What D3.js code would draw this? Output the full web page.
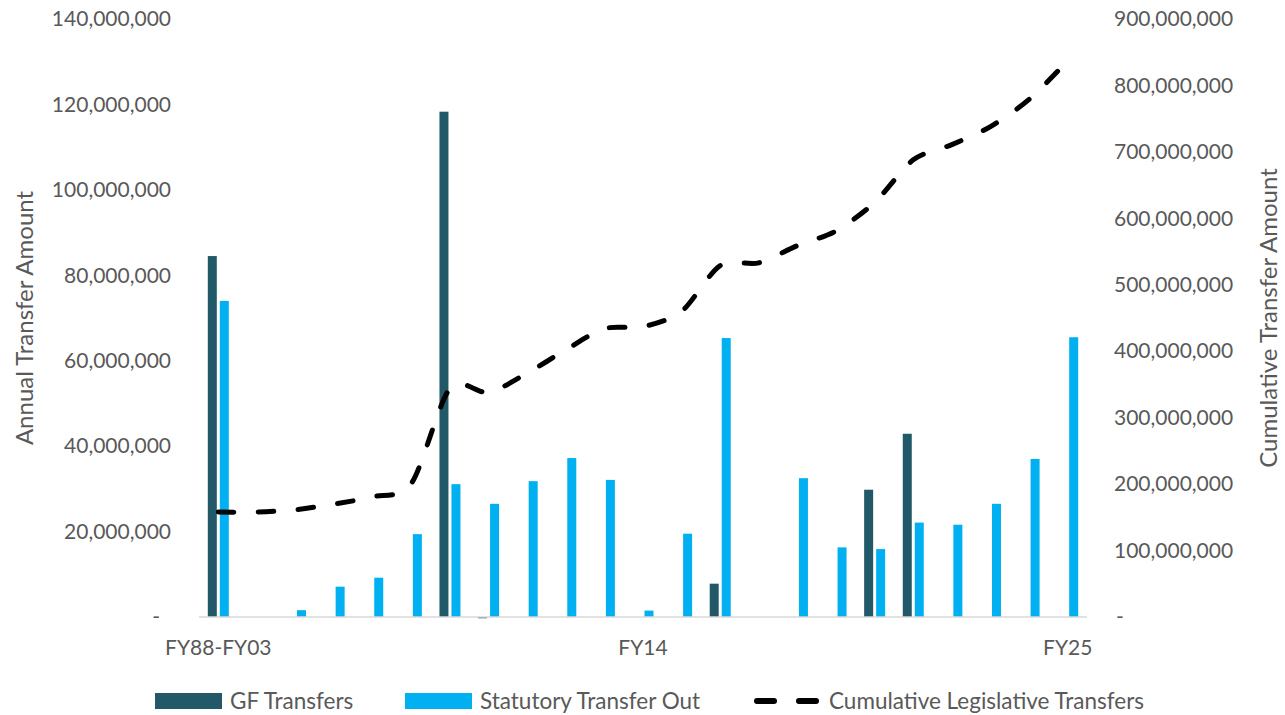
<!DOCTYPE html>
<html>
<head>
<meta charset="utf-8">
<script src="https://cdn.jsdelivr.net/npm/d3@7"></script>
<style>
  html, body { margin: 0; padding: 0; background: #fff; }
  svg { display: block; }
  text { font-family: Lato, "Liberation Sans", sans-serif; fill: #595959; }
</style>
</head>
<body>
<svg id="chart" width="1285" height="715"></svg>
<script>
// Fiscal-year categories
const categories = ["FY88-FY03", "FY04", "FY05", "FY06", "FY07", "FY08", "FY09", "FY10",
  "FY11", "FY12", "FY13", "FY14", "FY15", "FY16", "FY17", "FY18", "FY19", "FY20",
  "FY21", "FY22", "FY23", "FY24", "FY25"];

// Annual amounts (dollars)
const gfTransfers = [84500000, 0, 0, 0, 0, 0, 118300000, -300000, 0, 0, 0, 0, 0,
  7800000, 0, 0, 0, 29800000, 42900000, 0, 0, 0, 0];
const statutoryTransferOut = [74000000, 0, 1600000, 7100000, 9200000, 19400000, 31100000,
  26500000, 31800000, 37200000, 32100000, 1500000, 19500000, 65300000, 0, 32500000,
  16300000, 15900000, 22100000, 21600000, 26500000, 37000000, 65500000];

// Running total of legislative transfers (dollars, right axis)
const cumulativeLegislative = [158000000, 158000000, 161500000, 170000000, 181000000,
  201000000, 344000000, 338000000, 367000000, 402000000, 434000000, 437000000,
  460000000, 529000000, 533000000, 559000000, 581000000, 624000000, 688000000,
  711000000, 738000000, 779000000, 837000000];

const leftTicks = [0, 20000000, 40000000, 60000000, 80000000, 100000000, 120000000, 140000000];
const rightTicks = [0, 100000000, 200000000, 300000000, 400000000, 500000000, 600000000,
  700000000, 800000000, 900000000];
const shownCategoryLabels = ["FY88-FY03", "FY14", "FY25"];

const seriesNames = ["GF Transfers", "Statutory Transfer Out", "Cumulative Legislative Transfers"];
const colors = { gf: "#215968", stat: "#00B0F0", line: "#000000" };

const svg = d3.select("#chart");
const plot = { left: 199, right: 1087, top: 19, bottom: 617 };

const x0 = d3.scaleBand().domain(categories).range([plot.left, plot.right])
  .paddingInner(0.456).paddingOuter(0.228);
const x1 = d3.scaleBand().domain(["gf", "stat"]).range([0, x0.bandwidth()]).paddingInner(0.25);
const yL = d3.scaleLinear().domain([0, 140000000]).range([plot.bottom, plot.top]);
const yR = d3.scaleLinear().domain([0, 900000000]).range([plot.bottom, plot.top]);

const fmt = d3.format(",");

// Left axis labels (accounting style: zero shown as a dash)
const leftAxis = d3.axisLeft(yL).tickValues(leftTicks).tickSize(0).tickPadding(0)
  .tickFormat(d => d === 0 ? "-" : fmt(d));
const gL = svg.append("g").attr("transform", `translate(171,0)`).call(leftAxis);
gL.select(".domain").remove();
gL.selectAll("text").style("font-size", "21px").attr("fill", "#595959")
  .style("font-family", "Lato, sans-serif")
  .attr("dx", d => d === 0 ? -11 : 0);

// Right axis labels
const rightAxis = d3.axisRight(yR).tickValues(rightTicks).tickSize(0).tickPadding(0)
  .tickFormat(d => d === 0 ? "-" : fmt(d));
const gR = svg.append("g").attr("transform", `translate(1114,0)`).call(rightAxis);
gR.select(".domain").remove();
gR.selectAll("text").style("font-size", "21px").attr("fill", "#595959")
  .style("font-family", "Lato, sans-serif")
  .attr("dx", d => d === 0 ? 2 : 0);

// Bars
const groups = svg.append("g").selectAll("g").data(categories).join("g")
  .attr("transform", d => `translate(${x0(d)},0)`);

groups.append("rect")
  .attr("x", x1("gf")).attr("width", x1.bandwidth())
  .attr("y", (d, i) => yL(Math.max(0, gfTransfers[i])))
  .attr("height", (d, i) => Math.abs(yL(gfTransfers[i]) - yL(0)))
  .attr("fill", colors.gf);

groups.append("rect")
  .attr("x", x1("stat")).attr("width", x1.bandwidth())
  .attr("y", (d, i) => yL(Math.max(0, statutoryTransferOut[i])))
  .attr("height", (d, i) => Math.abs(yL(statutoryTransferOut[i]) - yL(0)))
  .attr("fill", colors.stat);

// Category axis baseline
svg.append("line")
  .attr("x1", plot.left).attr("x2", plot.right)
  .attr("y1", yL(0)).attr("y2", yL(0))
  .attr("stroke", "#d9d9d9").attr("stroke-width", 1.5);

// Category labels (every 11th year)
const xAxis = d3.axisBottom(x0).tickValues(shownCategoryLabels).tickSize(0).tickPadding(0);
const gX = svg.append("g").attr("transform", `translate(0,648)`).call(xAxis);
gX.select(".domain").remove();
gX.selectAll("text").style("font-size", "21px").attr("fill", "#595959")
  .style("font-family", "Lato, sans-serif").attr("dy", "0.35em").attr("y", 0);

// Cumulative line, smoothed
const line = d3.line()
  .x((d, i) => x0(categories[i]) + x0.bandwidth() / 2)
  .y(d => yR(d))
  .curve(d3.curveCardinal.tension(0.15));

svg.append("path")
  .datum(cumulativeLegislative)
  .attr("d", line)
  .attr("fill", "none")
  .attr("stroke", colors.line)
  .attr("stroke-width", 5)
  .attr("stroke-linecap", "round")
  .attr("stroke-dasharray", "15.5,24.5");

// Axis titles
svg.append("text")
  .attr("transform", `translate(23,318) rotate(-90)`)
  .attr("text-anchor", "middle").attr("dominant-baseline", "central")
  .style("font-size", "24px")
  .text("Annual Transfer Amount");

svg.append("text")
  .attr("transform", `translate(1267,318) rotate(-90)`)
  .attr("text-anchor", "middle").attr("dominant-baseline", "central")
  .style("font-size", "24px")
  .text("Cumulative Transfer Amount");

// Legend
const legend = svg.append("g").attr("transform", "translate(0,701)");
const lgItems = [
  { name: seriesNames[0], x: 155, type: "bar", color: colors.gf },
  { name: seriesNames[1], x: 405, type: "bar", color: colors.stat },
  { name: seriesNames[2], x: 754, type: "line", color: colors.line }
];
lgItems.forEach(it => {
  if (it.type === "bar") {
    legend.append("rect").attr("x", it.x).attr("y", -8).attr("width", 67).attr("height", 16)
      .attr("fill", it.color);
  } else {
    legend.append("line").attr("x1", it.x + 3).attr("x2", it.x + 64).attr("y1", 0).attr("y2", 0)
      .attr("stroke", it.color).attr("stroke-width", 6).attr("stroke-linecap", "round")
      .attr("stroke-dasharray", "17,25");
  }
  legend.append("text").attr("x", it.x + 75).attr("y", 0).attr("dy", "0.35em")
    .style("font-size", "22.5px").text(it.name);
});
</script>
</body>
</html>
